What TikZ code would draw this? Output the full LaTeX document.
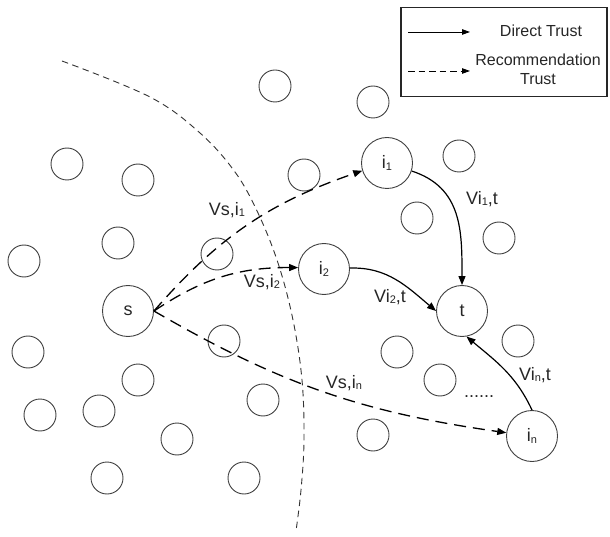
\documentclass[tikz,border=0pt]{standalone}
\usepackage{fontspec}
\setmainfont{Liberation Sans}
\usetikzlibrary{arrows.meta}
\newcommand\sbs[1]{\raisebox{-1.3pt}{\fontsize{11}{11}\selectfont #1}}
\begin{document}
\begin{tikzpicture}[x=1pt,y=1pt,
  small/.style={circle,draw=black!75,line width=0.9pt,minimum size=32pt,inner sep=0pt},
  big/.style={circle,draw=black!75,line width=0.9pt,minimum size=51pt,inner sep=0pt,font=\fontsize{18}{21}\selectfont,text=black!85},
  dtrust/.style={line width=1.2pt,-{Triangle[length=9pt,width=7pt]}},
  rtrust/.style={line width=1.3pt,dash pattern=on 12pt off 7pt,-{Triangle[length=9pt,width=7pt]}},
  lbl/.style={font=\fontsize{18}{21}\selectfont,text=black!85,inner sep=0pt},
  leg/.style={font=\fontsize{16}{19}\selectfont,text=black!85,inner sep=0pt},
  region/.style={line width=0.9pt,dash pattern=on 6.5pt off 4.5pt,black!80}
]
\useasboundingbox (0,0) rectangle (610,536);

% region boundary
\draw[region] plot[smooth,tension=0.6] coordinates {(62,475) (150,439) (200,403) (235,364) (258,323) (278,273) (293,216) (302,156) (304,96) (301,46) (296,5)};

% small nodes
\node[small] (c1) at (275,450) {};
\node[small] (c2) at (373,434) {};
\node[small] (c3) at (67,372) {};
\node[small] (c4) at (138,356) {};
\node[small] (c5) at (304,361) {};
\node[small] (c6) at (459,380) {};
\node[small] (c7) at (417,318) {};
\node[small] (c8) at (499,298) {};
\node[small] (c9) at (118,293) {};
\node[small] (c10) at (217,282) {};
\node[small] (c11) at (24,275) {};
\node[small] (c12) at (28,184) {};
\node[small] (c13) at (138,156) {};
\node[small] (c14) at (224,195) {};
\node[small] (c15) at (40,121) {};
\node[small] (c16) at (99,125) {};
\node[small] (c17) at (177,97) {};
\node[small] (c18) at (263,136) {};
\node[small] (c19) at (107,58) {};
\node[small] (c20) at (244,58) {};
\node[small] (c21) at (518,195) {};
\node[small] (c22) at (397,184) {};
\node[small] (c23) at (440,156) {};
\node[small] (c24) at (373,101) {};

% main nodes
\node[big] (s) at (128,225) {s};
\node[big] (i1) at (387,373) {i\sbs{1}};
\node[big] (i2) at (324,267) {i\sbs{2}};
\node[big] (t) at (462,225) {t};
\node[big] (in) at (532,100) {i\sbs{n}};

% recommendation trust
\draw[rtrust] (s.east) to[bend left=15] (i1);
\draw[rtrust] (s.east) to[bend left=17] (i2);
\draw[rtrust] (s.east) to[bend right=11] (in);

% direct trust
\draw[dtrust] (i1) to[out=-18,in=90,looseness=1.1] (t.north);
\draw[dtrust] (i2) to[out=2,in=140] (t.west);
\draw[dtrust] (in.north) to[out=115,in=-40] (t.-80);

% labels
\node[lbl] (l1) at (227,326) {Vs,i\sbs{1}};
\node[lbl] (l2) at (262,254) {Vs,i\sbs{2}};
\node[lbl] (l3) at (344,153) {Vs,i\sbs{n}};
\node[lbl] (l4) at (482,337) {Vi\sbs{1},t};
\node[lbl] (l5) at (390,239) {Vi\sbs{2},t};
\node[lbl] (l6) at (535,161) {Vi\sbs{n},t};
\node[lbl] (dots) at (479,139) {......};

% legend
\node[draw=black!85,line width=1.4pt,minimum width=206pt,minimum height=89pt,inner sep=0pt] (legend) at (504,484) {};
\coordinate (la1) at (408,504);
\coordinate (la2) at (470,504);
\coordinate (lb1) at (408,465);
\coordinate (lb2) at (470,465);
\draw[line width=0.9pt,-{Triangle[length=8pt,width=5.5pt]}] (la1) -- (la2);
\draw[line width=0.9pt,dash pattern=on 6.5pt off 4pt,-{Triangle[length=8pt,width=5.5pt]}] (lb1) -- (lb2);
\node[leg] (lt1) at (541,505) {Direct Trust};
\node[leg,align=center] (lt2) at (538,467) {Recommendation\\Trust};
\end{tikzpicture}
\end{document}
